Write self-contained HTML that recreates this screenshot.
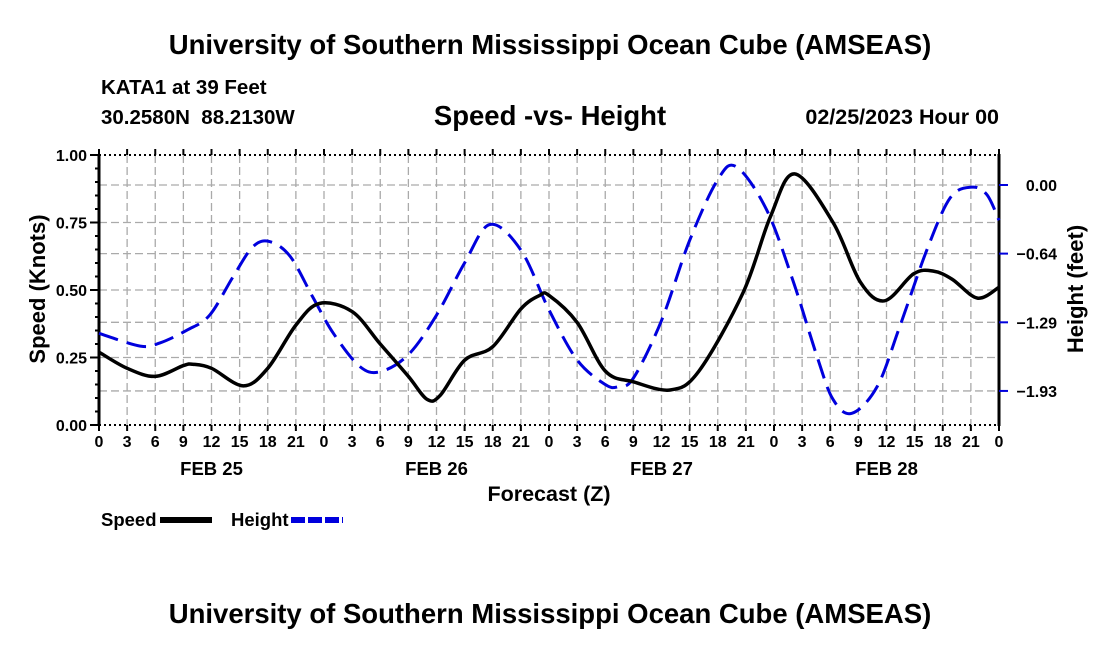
<!DOCTYPE html>
<html><head><meta charset="utf-8"><style>
body{margin:0;background:#fff;}
svg{display:block;font-family:"Liberation Sans",Arial,sans-serif;font-weight:bold;}
</style></head><body>
<svg width="1100" height="650" viewBox="0 0 1100 650">
<text x="550" y="54" text-anchor="middle" font-size="27.5">University of Southern Mississippi Ocean Cube (AMSEAS)</text>
<text x="101" y="94" font-size="20.5">KATA1 at 39 Feet</text>
<text x="101" y="124" font-size="20.5" xml:space="preserve" style="white-space:pre">30.2580N  88.2130W</text>
<text x="550" y="125" text-anchor="middle" font-size="27.5">Speed -vs- Height</text>
<text x="999" y="124" text-anchor="end" font-size="21.5">02/25/2023 Hour 00</text>
<g id="grid"></g>
<g id="axes"></g>
<g id="series"></g>
<text transform="translate(45,289) rotate(-90)" text-anchor="middle" font-size="22">Speed (Knots)</text>
<text transform="translate(1083,289) rotate(-90)" text-anchor="middle" font-size="22">Height (feet)</text>
<text x="549" y="501" text-anchor="middle" font-size="21.5">Forecast (Z)</text>
<g>
<text x="101" y="526" font-size="18.5">Speed</text>
<line x1="160" y1="520" x2="212" y2="520" stroke="#000" stroke-width="6"/>
<text x="231" y="526" font-size="18.5">Height</text>
<line x1="291" y1="520" x2="343" y2="520" stroke="#0000dd" stroke-width="6" stroke-dasharray="14,3"/>
</g>
<text x="550" y="623" text-anchor="middle" font-size="27.5">University of Southern Mississippi Ocean Cube (AMSEAS)</text>
</svg>
<script>
const speedHours=[0,3,6,9,10,12,15.4,18,21,23.5,27,30,33,35,36.4,39,42,45,47,48,51,54,57,61,64,68.7,71.6,74.2,78.3,81.2,83.8,86.9,89,91,93.7,96];
const speedValues=[0.27,0.21,0.18,0.22,0.225,0.21,0.145,0.21,0.37,0.45,0.42,0.30,0.18,0.095,0.11,0.24,0.29,0.43,0.48,0.48,0.38,0.20,0.16,0.13,0.20,0.49,0.77,0.93,0.75,0.53,0.46,0.56,0.57,0.54,0.47,0.51];
const heightHours=[0,4.4,6.5,9.4,11.8,14.3,16.4,18.2,20.4,22.8,25,27.8,30,33,36,39,41.7,45,48,51,54,55.4,57,60,63,66,68,71.2,74,76.6,78.3,80.3,83,85.4,88.3,90.8,93.1,94.7,96];
const heightValues=[-1.39,-1.51,-1.48,-1.36,-1.22,-0.86,-0.58,-0.53,-0.67,-1.05,-1.39,-1.70,-1.75,-1.59,-1.22,-0.73,-0.37,-0.61,-1.17,-1.64,-1.87,-1.89,-1.81,-1.27,-0.52,0.05,0.17,-0.23,-0.89,-1.61,-2.01,-2.14,-1.89,-1.33,-0.61,-0.12,-0.02,-0.09,-0.33];
const leftTicks=[0,0.25,0.5,0.75,1.0];
const rightTicks=[0,-0.643,-1.287,-1.93];
const rightTickLabels=["0.00","\u22120.64","\u22121.29","\u22121.93"];
const hourTickLabels=["0","3","6","9","12","15","18","21"];
const dayLabels=["FEB 25","FEB 26","FEB 27","FEB 28"];

const X0=99,X1=999,Y0=425,Y1=155;
const xs=h=>X0+h*(X1-X0)/96;
const yL=v=>Y0-v*(Y0-Y1);
const yR=f=>185-f*106.7;
const NS="http://www.w3.org/2000/svg";
function mk(parent,tag,attrs){const e=document.createElementNS(NS,tag);for(const k in attrs)e.setAttribute(k,attrs[k]);parent.appendChild(e);return e;}
const grid=document.getElementById('grid'),axes=document.getElementById('axes'),series=document.getElementById('series');
for(let i=1;i<32;i++){const x=xs(i*3);
 const l=mk(grid,'line',{x1:x,y1:Y1,x2:x,y2:Y0,stroke:'#aaa','stroke-width':1.3,'stroke-dasharray':'8,4'});
 
 }
[0.25,0.5,0.75].forEach(v=>{const l=mk(grid,'line',{x1:X0,y1:yL(v),x2:X1,y2:yL(v),stroke:'#aaa','stroke-width':1.3,'stroke-dasharray':'8,4'});
 
 });
rightTicks.forEach(f=>{const l=mk(grid,'line',{x1:X0,y1:yR(f),x2:X1,y2:yR(f),stroke:'#aaa','stroke-width':1.3,'stroke-dasharray':'8,4'});
 
 });
mk(axes,'line',{x1:X0,y1:Y1-1,x2:X0,y2:Y0+1,stroke:'#000','stroke-width':3});
mk(axes,'line',{x1:X1,y1:Y1-1,x2:X1,y2:Y0+1,stroke:'#000','stroke-width':3});
mk(axes,'line',{x1:X0,y1:Y1,x2:X1,y2:Y1,stroke:'#000','stroke-width':2,'stroke-dasharray':'2,3'});
mk(axes,'line',{x1:X0,y1:Y0,x2:X1,y2:Y0,stroke:'#000','stroke-width':2,'stroke-dasharray':'2,3'});
for(let i=0;i<=32;i++){const x=xs(i*3);
 mk(axes,'line',{x1:x,y1:Y0,x2:x,y2:Y0+6,stroke:'#000','stroke-width':2});
 mk(axes,'line',{x1:x,y1:Y1,x2:x,y2:Y1-6,stroke:'#000','stroke-width':2});
 const t=mk(axes,'text',{x:x,y:Y0+22,'text-anchor':'middle','font-size':16});
 t.textContent=hourTickLabels[i%8];
 
 }
dayLabels.forEach((d,i)=>{const t=mk(axes,'text',{x:xs(i*24+12),y:Y0+50,'text-anchor':'middle','font-size':18.5});
 t.textContent=d;
 
 });
for(let v=0;v<=1.0001;v+=0.05){mk(axes,'line',{x1:X0-4,y1:yL(v),x2:X0,y2:yL(v),stroke:'#000','stroke-width':2});}
leftTicks.forEach(v=>{mk(axes,'line',{x1:X0-9,y1:yL(v),x2:X0,y2:yL(v),stroke:'#000','stroke-width':2});
 const t=mk(axes,'text',{x:X0-12,y:yL(v)+6,'text-anchor':'end','font-size':16});
 t.textContent=v.toFixed(2);
 
 });
rightTicks.forEach((f,i)=>{mk(axes,'line',{x1:X1,y1:yR(f),x2:X1+9,y2:yR(f),stroke:'#0000dd','stroke-width':2});
 const t=mk(axes,'text',{x:1057,y:yR(f)+6,'text-anchor':'end','font-size':16});
 t.textContent=rightTickLabels[i];
 
 });
function smooth(pts){let d='M'+pts[0][0]+','+pts[0][1];
 for(let i=0;i<pts.length-1;i++){const p0=pts[Math.max(0,i-1)],p1=pts[i],p2=pts[i+1],p3=pts[Math.min(pts.length-1,i+2)];
  const c1=[p1[0]+(p2[0]-p0[0])/6,p1[1]+(p2[1]-p0[1])/6],c2=[p2[0]-(p3[0]-p1[0])/6,p2[1]-(p3[1]-p1[1])/6];
  d+=` C${c1[0]},${c1[1]} ${c2[0]},${c2[1]} ${p2[0]},${p2[1]}`;}
 return d;}
const hp=mk(series,'path',{d:smooth(heightHours.map((h,i)=>[xs(h),yR(heightValues[i])])),fill:'none',stroke:'#0000dd','stroke-width':3,'stroke-dasharray':'20,9'});


const sp=mk(series,'path',{d:smooth(speedHours.map((h,i)=>[xs(h),yL(speedValues[i])])),fill:'none',stroke:'#000','stroke-width':3.5});


</script>
</body></html>
